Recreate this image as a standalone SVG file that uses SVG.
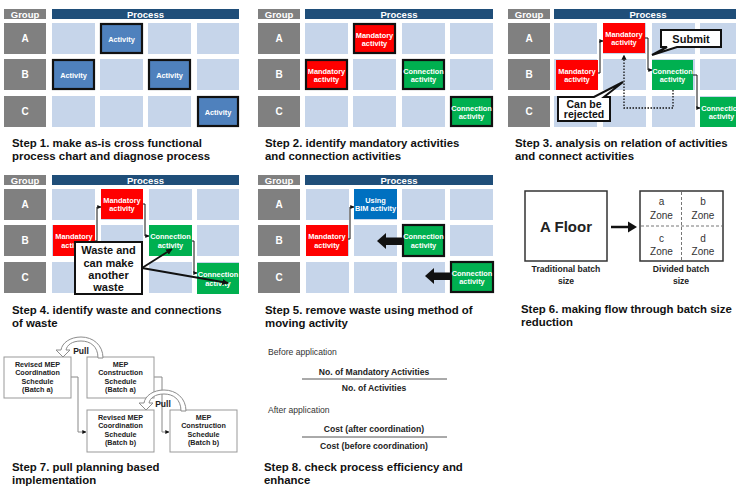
<svg xmlns="http://www.w3.org/2000/svg" width="736" height="499" viewBox="0 0 736 499">
<style>
text{font-family:"Liberation Sans","Noto Sans",Arial,sans-serif;}
.grp{fill:#808080;}
.hdr{fill:#1f4e79;}
.cell{fill:#c6d5ea;}
.ht{fill:#fff;font-size:9.5px;font-weight:bold;text-anchor:middle;}
.gl{fill:#fff;font-size:10px;font-weight:bold;text-anchor:middle;}
.bt{fill:#fff;font-size:7.4px;font-weight:bold;text-anchor:middle;}
.act{fill:#4f81bd;}
.red{fill:#ff0000;}
.grn{fill:#00b050;}
.bim{fill:#0070c0;}
.bd{stroke:#111;stroke-width:2.2;}
.cap{fill:#111;font-size:11.4px;font-weight:bold;}
.con{fill:none;stroke:#111;stroke-width:1;}
.dot{fill:none;stroke:#111;stroke-width:1.3;stroke-dasharray:1.5,1.5;}
.wst{fill:none;stroke:#111;stroke-width:1.8;}
.call{fill:#fff;stroke:#111;stroke-width:2;stroke-linejoin:miter;}
.ct{fill:#111;font-size:11px;font-weight:bold;text-anchor:middle;}
.sb{fill:#fff;stroke:#999;stroke-width:1;}
.st{fill:#222;font-size:7.2px;font-weight:bold;text-anchor:middle;}
.gline{fill:none;stroke:#888;stroke-width:1;}
.fr{fill:#222;font-size:8.6px;font-weight:bold;text-anchor:middle;}
.lb{fill:#333;font-size:8.6px;}
.zt{fill:#333;font-size:10px;text-anchor:middle;}
.pull{fill:#fff;stroke:#8c8c8c;stroke-width:1;}
.pt{fill:#222;font-size:8.5px;font-weight:bold;text-anchor:middle;}
</style>
<defs>
<marker id="ah" viewBox="0 0 6 6" refX="5.5" refY="3" markerWidth="4" markerHeight="4" orient="auto"><path d="M0,0 L6,3 L0,6 Z" fill="#111"/></marker>
<marker id="ahw" viewBox="0 0 6 6" refX="5.5" refY="3" markerWidth="3.5" markerHeight="3.5" orient="auto"><path d="M0,0 L6,3 L0,6 Z" fill="#111"/></marker>
</defs>

<!-- ============ Panel 1 ============ -->
<g id="panel1">
<g id="p1-grid">
<rect class="grp" x="4" y="9" width="42" height="10"/><text class="ht" x="25" y="17.5">Group</text>
<rect class="hdr" x="52" y="9" width="187" height="10"/><text class="ht" x="145.5" y="17.5">Process</text>
<rect class="grp" x="4" y="23" width="42" height="31"/><text class="gl" x="25" y="42">A</text>
<rect class="grp" x="4" y="59" width="42" height="31"/><text class="gl" x="25" y="78">B</text>
<rect class="grp" x="4" y="96" width="42" height="31"/><text class="gl" x="25" y="115">C</text>
<rect class="cell" x="52" y="23" width="43" height="31"/><rect class="cell" x="100" y="23" width="43" height="31"/><rect class="cell" x="148" y="23" width="43" height="31"/><rect class="cell" x="197" y="23" width="42" height="31"/>
<rect class="cell" x="52" y="59" width="43" height="31"/><rect class="cell" x="100" y="59" width="43" height="31"/><rect class="cell" x="148" y="59" width="43" height="31"/><rect class="cell" x="197" y="59" width="42" height="31"/>
<rect class="cell" x="52" y="96" width="43" height="31"/><rect class="cell" x="100" y="96" width="43" height="31"/><rect class="cell" x="148" y="96" width="43" height="31"/><rect class="cell" x="197" y="96" width="42" height="31"/>
</g>
<g id="p1-act1"><rect class="act bd" x="101" y="24" width="41" height="29"/><text class="bt" x="121.5" y="41.5">Activity</text></g>
<g id="p1-act2"><rect class="act bd" x="53" y="60" width="41" height="29"/><text class="bt" x="73.5" y="77.5">Activity</text></g>
<g id="p1-act3"><rect class="act bd" x="149" y="60" width="41" height="29"/><text class="bt" x="169.5" y="77.5">Activity</text></g>
<g id="p1-act4"><rect class="act bd" x="198" y="97" width="40" height="29"/><text class="bt" x="218" y="114.5">Activity</text></g>
<text class="cap" x="12" y="147">Step 1. make as-is cross functional</text>
<text class="cap" x="12" y="160">process chart and diagnose process</text>
</g>

<!-- ============ Panel 2 ============ -->
<g id="panel2">
<g id="p2-grid">
<rect class="grp" x="258" y="9" width="42" height="10"/><text class="ht" x="279" y="17.5">Group</text>
<rect class="hdr" x="305" y="9" width="188" height="10"/><text class="ht" x="399" y="17.5">Process</text>
<rect class="grp" x="258" y="23" width="42" height="31"/><text class="gl" x="279" y="42">A</text>
<rect class="grp" x="258" y="59" width="42" height="31"/><text class="gl" x="279" y="78">B</text>
<rect class="grp" x="258" y="96" width="42" height="31"/><text class="gl" x="279" y="115">C</text>
<rect class="cell" x="305" y="23" width="43" height="31"/><rect class="cell" x="353" y="23" width="43" height="31"/><rect class="cell" x="402" y="23" width="43" height="31"/><rect class="cell" x="450" y="23" width="43" height="31"/>
<rect class="cell" x="305" y="59" width="43" height="31"/><rect class="cell" x="353" y="59" width="43" height="31"/><rect class="cell" x="402" y="59" width="43" height="31"/><rect class="cell" x="450" y="59" width="43" height="31"/>
<rect class="cell" x="305" y="96" width="43" height="31"/><rect class="cell" x="353" y="96" width="43" height="31"/><rect class="cell" x="402" y="96" width="43" height="31"/><rect class="cell" x="450" y="96" width="43" height="31"/>
</g>
<g id="p2-mand1"><rect class="red bd" x="354" y="24" width="41" height="29"/><text class="bt" x="374.5" y="37.5">Mandatory</text><text class="bt" x="374.5" y="46">activity</text></g>
<g id="p2-mand2"><rect class="red bd" x="306" y="60" width="41" height="29"/><text class="bt" x="326.5" y="73.5">Mandatory</text><text class="bt" x="326.5" y="82">activity</text></g>
<g id="p2-conn1"><rect class="grn bd" x="403" y="60" width="41" height="29"/><text class="bt" x="423.5" y="73.5">Connection</text><text class="bt" x="423.5" y="82">activity</text></g>
<g id="p2-conn2"><rect class="grn bd" x="451" y="97" width="41" height="29"/><text class="bt" x="471.5" y="110.5">Connection</text><text class="bt" x="471.5" y="119">activity</text></g>
<text class="cap" x="265" y="147">Step 2. identify mandatory activities</text>
<text class="cap" x="265" y="160">and connection activities</text>
</g>

<!-- ============ Panel 3 ============ -->
<g id="panel3">
<g id="p3-grid">
<rect class="grp" x="508" y="9" width="42" height="10"/><text class="ht" x="529" y="17.5">Group</text>
<rect class="hdr" x="554" y="9" width="190" height="10"/><text class="ht" x="648" y="17.5">Process</text>
<rect class="grp" x="508" y="23" width="42" height="31"/><text class="gl" x="529" y="42">A</text>
<rect class="grp" x="508" y="59" width="42" height="31"/><text class="gl" x="529" y="78">B</text>
<rect class="grp" x="508" y="96" width="42" height="31"/><text class="gl" x="529" y="115">C</text>
<rect class="cell" x="554" y="23" width="43" height="31"/><rect class="cell" x="603" y="23" width="43" height="31"/><rect class="cell" x="652" y="23" width="43" height="31"/><rect class="cell" x="700" y="23" width="43" height="31"/>
<rect class="cell" x="554" y="59" width="43" height="31"/><rect class="cell" x="603" y="59" width="43" height="31"/><rect class="cell" x="652" y="59" width="43" height="31"/><rect class="cell" x="700" y="59" width="43" height="31"/>
<rect class="cell" x="554" y="96" width="43" height="31"/><rect class="cell" x="603" y="96" width="43" height="31"/><rect class="cell" x="652" y="96" width="43" height="31"/><rect class="cell" x="700" y="96" width="43" height="31"/>
</g>
<g id="p3-mand1"><rect class="red" x="603" y="23" width="42" height="30"/><text class="bt" x="624" y="36.5">Mandatory</text><text class="bt" x="624" y="45">activity</text></g>
<g id="p3-mand2"><rect class="red" x="556" y="60" width="42" height="30"/><text class="bt" x="577" y="73.5">Mandatory</text><text class="bt" x="577" y="82">activity</text></g>
<g id="p3-conn1"><rect class="grn" x="652" y="60" width="41" height="30"/><text class="bt" x="672.5" y="73.5">Connection</text><text class="bt" x="672.5" y="82">activity</text></g>
<g id="p3-conn2"><rect class="grn" x="700" y="97" width="43" height="30"/><text class="bt" x="721.5" y="110.5">Connection</text><text class="bt" x="721.5" y="119">activity</text></g>
<g id="p3-connectors">
<path class="con" d="M598,73 H600 V41 H603" marker-end="url(#ah)"/>
<path class="con" d="M645,38 H648 V70 H652" marker-end="url(#ah)"/>
<path class="con" d="M693,75 H697 V108 H700" marker-end="url(#ah)"/>
<path class="dot" d="M673,90 V108 H624 V55" marker-end="url(#ah)"/>
</g>
<g id="p3-submit"><path class="call" d="M661,30 H721 V47 H677 L652,55 L667,47 H661 Z"/><text class="ct" x="691" y="42.5">Submit</text></g>
<g id="p3-reject"><path class="call" d="M558,97 H594 L623,82 L604,97 H610 V121 H558 Z"/><text class="ct" x="584" y="107.5" style="font-size:10.5px">Can be</text><text class="ct" x="584" y="118" style="font-size:10.5px">rejected</text></g>
<text class="cap" x="515" y="147">Step 3. analysis on relation of activities</text>
<text class="cap" x="515" y="160">and connect activities</text>
</g>

<!-- ============ Panel 4 ============ -->
<g id="panel4">
<g id="p4-grid">
<rect class="grp" x="4" y="175" width="42" height="10"/><text class="ht" x="25" y="183.5">Group</text>
<rect class="hdr" x="52" y="175" width="187" height="10"/><text class="ht" x="145.5" y="183.5">Process</text>
<rect class="grp" x="4" y="189" width="42" height="31"/><text class="gl" x="25" y="208">A</text>
<rect class="grp" x="4" y="225" width="42" height="31"/><text class="gl" x="25" y="244">B</text>
<rect class="grp" x="4" y="262" width="42" height="31"/><text class="gl" x="25" y="281">C</text>
<rect class="cell" x="52" y="189" width="43" height="31"/><rect class="cell" x="101" y="189" width="42" height="31"/><rect class="cell" x="149" y="189" width="43" height="31"/><rect class="cell" x="197" y="189" width="42" height="31"/>
<rect class="cell" x="52" y="225" width="43" height="31"/><rect class="cell" x="101" y="225" width="42" height="31"/><rect class="cell" x="149" y="225" width="43" height="31"/><rect class="cell" x="197" y="225" width="42" height="31"/>
<rect class="cell" x="52" y="262" width="43" height="31"/><rect class="cell" x="101" y="262" width="42" height="31"/><rect class="cell" x="149" y="262" width="43" height="31"/><rect class="cell" x="197" y="262" width="42" height="31"/>
</g>
<g id="p4-mand1"><rect class="red" x="101" y="189" width="42" height="30"/><text class="bt" x="122" y="202.5">Mandatory</text><text class="bt" x="122" y="211">activity</text></g>
<g id="p4-mand2"><rect class="red" x="53" y="225" width="42" height="31"/><text class="bt" x="74" y="239">Mandatory</text><text class="bt" x="74" y="247.5">activity</text></g>
<g id="p4-conn1"><rect class="grn" x="149" y="225" width="43" height="31"/><text class="bt" x="170.5" y="239">Connection</text><text class="bt" x="170.5" y="247.5">activity</text></g>
<g id="p4-conn2"><rect class="grn" x="197" y="263" width="42" height="31"/><text class="bt" x="218" y="277">Connection</text><text class="bt" x="218" y="285.5">activity</text></g>
<g id="p4-connectors">
<path class="con" d="M95,241 H97 V207 H101" marker-end="url(#ah)"/>
<path class="con" d="M143,204 H145 V236 H149" marker-end="url(#ah)"/>
<path class="con" d="M192,241 H194 V273 H197" marker-end="url(#ah)"/>
</g>
<g id="p4-waste"><rect class="call" x="75" y="242" width="67" height="52"/>
<text class="ct" x="108.5" y="254">Waste and</text>
<text class="ct" x="108.5" y="266.5">can make</text>
<text class="ct" x="108.5" y="279">another</text>
<text class="ct" x="108.5" y="290.5">waste</text></g>
<g id="p4-waste-links">
<path class="wst" d="M142,268 L172,249" marker-end="url(#ahw)"/>
<path class="wst" d="M142,268 L228,283" marker-end="url(#ahw)"/>
</g>
<text class="cap" x="12" y="314">Step 4. identify waste and connections</text>
<text class="cap" x="12" y="327">of waste</text>
</g>

<!-- ============ Panel 5 ============ -->
<g id="panel5">
<g id="p5-grid">
<rect class="grp" x="258" y="175" width="42" height="10"/><text class="ht" x="279" y="183.5">Group</text>
<rect class="hdr" x="305" y="175" width="188" height="10"/><text class="ht" x="399" y="183.5">Process</text>
<rect class="grp" x="258" y="189" width="42" height="31"/><text class="gl" x="279" y="208">A</text>
<rect class="grp" x="258" y="225" width="42" height="31"/><text class="gl" x="279" y="244">B</text>
<rect class="grp" x="258" y="262" width="42" height="31"/><text class="gl" x="279" y="281">C</text>
<rect class="cell" x="306" y="189" width="43" height="31"/><rect class="cell" x="354" y="189" width="43" height="31"/><rect class="cell" x="402" y="189" width="43" height="31"/><rect class="cell" x="450" y="189" width="43" height="31"/>
<rect class="cell" x="306" y="225" width="43" height="31"/><rect class="cell" x="354" y="225" width="43" height="31"/><rect class="cell" x="402" y="225" width="43" height="31"/><rect class="cell" x="450" y="225" width="43" height="31"/>
<rect class="cell" x="306" y="262" width="43" height="31"/><rect class="cell" x="354" y="262" width="43" height="31"/><rect class="cell" x="402" y="262" width="43" height="31"/><rect class="cell" x="450" y="262" width="43" height="31"/>
</g>
<g id="p5-bim"><rect class="bim" x="354" y="189" width="43" height="30"/><text class="bt" x="375.5" y="202.5">Using</text><text class="bt" x="375.5" y="211">BIM activity</text></g>
<g id="p5-mand"><rect class="red" x="306" y="225" width="42" height="31"/><text class="bt" x="327" y="239">Mandatory</text><text class="bt" x="327" y="247.5">activity</text></g>
<g id="p5-conn1"><rect class="grn bd" x="403" y="225" width="41" height="31"/><text class="bt" x="423.5" y="239">Connection</text><text class="bt" x="423.5" y="247.5">activity</text></g>
<g id="p5-conn2"><rect class="grn bd" x="451" y="262" width="42" height="30"/><text class="bt" x="472" y="275.5">Connection</text><text class="bt" x="472" y="284">activity</text></g>
<g id="p5-connectors">
<path class="con" d="M348,239 H350 V207 H354" marker-end="url(#ah)"/>
<path fill="#111" d="M402,237.5 H386 V233 L377,241 L386,249 V245 H402 Z"/>
<path fill="#111" d="M450,272.5 H434 V268 L425,276 L434,284 V280 H450 Z"/>
</g>
<text class="cap" x="265" y="314">Step 5. remove waste using method of</text>
<text class="cap" x="265" y="327">moving activity</text>
</g>

<!-- ============ Panel 6 ============ -->
<g id="panel6">
<g id="p6-floor"><rect x="525" y="191" width="82" height="70" fill="#fff" stroke="#333" stroke-width="1.5"/>
<text x="566" y="232" style="font-size:15px;font-weight:bold;fill:#222;text-anchor:middle">A Floor</text></g>
<g id="p6-arrow"><path d="M611,227 H629" stroke="#111" stroke-width="2.5"/><path d="M628,221.5 L637,227 L628,232.5 Z" fill="#111"/></g>
<g id="p6-zones"><rect x="640" y="191" width="83" height="70" fill="#fff" stroke="#333" stroke-width="1.5"/>
<path d="M681.5,192 V260 M641,226 H722" stroke="#777" stroke-width="1" stroke-dasharray="3,2" fill="none"/>
<text class="zt" x="661.5" y="205">a</text><text class="zt" x="661.5" y="218.5">Zone</text>
<text class="zt" x="703" y="205">b</text><text class="zt" x="703" y="218.5">Zone</text>
<text class="zt" x="661.5" y="242">c</text><text class="zt" x="661.5" y="255">Zone</text>
<text class="zt" x="703" y="242">d</text><text class="zt" x="703" y="255">Zone</text></g>
<text class="fr" x="566" y="272">Traditional batch</text><text class="fr" x="566" y="284">size</text>
<text class="fr" x="681" y="272">Divided batch</text><text class="fr" x="681" y="284">size</text>
<text class="cap" x="521" y="313">Step 6. making flow through batch size</text>
<text class="cap" x="521" y="326">reduction</text>
</g>

<!-- ============ Panel 7 ============ -->
<g id="panel7">
<g id="p7-connectors">
<path class="gline" d="M71,377 H78 V432 H86" marker-end="url(#ah)"/>
<path class="gline" d="M154,377 H162 V432 H169" marker-end="url(#ah)"/>
</g>
<g id="p7-box1"><rect class="sb" x="4" y="357" width="67" height="41"/>
<text class="st" x="37.5" y="366.5">Revised MEP</text><text class="st" x="37.5" y="375">Coordination</text><text class="st" x="37.5" y="383.5">Schedule</text><text class="st" x="37.5" y="392">(Batch a)</text></g>
<g id="p7-box2"><rect class="sb" x="87" y="357" width="67" height="41"/>
<text class="st" x="120.5" y="366.5">MEP</text><text class="st" x="120.5" y="375">Construction</text><text class="st" x="120.5" y="383.5">Schedule</text><text class="st" x="120.5" y="392">(Batch a)</text></g>
<g id="p7-box3"><rect class="sb" x="87" y="410" width="67" height="42"/>
<text class="st" x="120.5" y="419.5">Revised MEP</text><text class="st" x="120.5" y="428">Coordination</text><text class="st" x="120.5" y="436.5">Schedule</text><text class="st" x="120.5" y="445">(Batch b)</text></g>
<g id="p7-box4"><rect class="sb" x="170" y="410" width="67" height="42"/>
<text class="st" x="203.5" y="419.5">MEP</text><text class="st" x="203.5" y="428">Construction</text><text class="st" x="203.5" y="436.5">Schedule</text><text class="st" x="203.5" y="445">(Batch b)</text></g>
<g id="p7-pull1"><path class="pull" d="M98,358 C98,346 90,341 81,341 C72,341 67,345 66,350 L70,350 L63,357 L56,350 L61,350 C62,343 70,337 81,337 C93,337 103,345 103,358 Z"/>
<text class="pt" x="81" y="354">Pull</text></g>
<g id="p7-pull2"><path class="pull" d="M181,411 C181,399 173,394 164,394 C155,394 150,398 149,403 L153,403 L146,410 L139,403 L144,403 C145,396 153,390 164,390 C176,390 186,398 186,411 Z"/>
<text class="pt" x="163" y="407">Pull</text></g>
<text class="cap" x="12" y="471">Step 7. pull planning based</text>
<text class="cap" x="12" y="484">implementation</text>
</g>

<!-- ============ Panel 8 ============ -->
<g id="panel8">
<text class="lb" x="268" y="355">Before application</text>
<text class="fr" x="374" y="375">No. of Mandatory Activities</text>
<path d="M302,379 H447" stroke="#555" stroke-width="1"/>
<text class="fr" x="374" y="391">No. of Activities</text>
<text class="lb" x="268" y="413">After application</text>
<text class="fr" x="374" y="432">Cost (after coordination)</text>
<path d="M302,437 H447" stroke="#555" stroke-width="1"/>
<text class="fr" x="374" y="449">Cost (before coordination)</text>
<text class="cap" x="264" y="471">Step 8. check process efficiency and</text>
<text class="cap" x="264" y="484">enhance</text>
</g>
</svg>
